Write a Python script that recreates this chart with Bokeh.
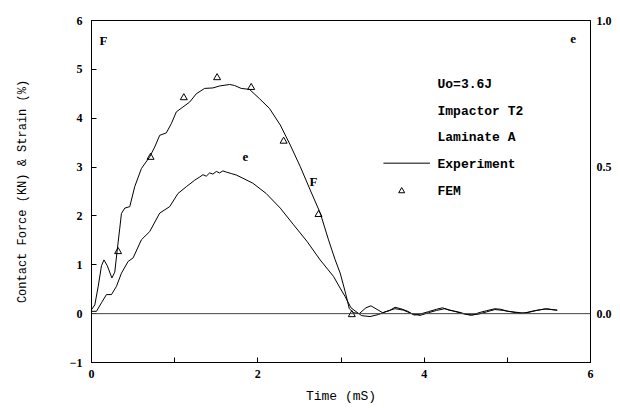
from bokeh.plotting import figure
from bokeh.models import Range1d, LinearAxis, Span, Label, FixedTicker, PrintfTickFormatter
from bokeh.embed import file_html
from bokeh.resources import INLINE

# Contact force F (kN) vs time (ms) -- experiment
t_force = [0.00, 0.04, 0.08, 0.12, 0.15, 0.19, 0.245, 0.28, 0.305, 0.34, 0.36, 0.40, 0.46,
           0.52, 0.60, 0.70, 0.76, 0.82, 0.90, 0.96, 1.02, 1.10, 1.18, 1.26, 1.36, 1.46,
           1.54, 1.66, 1.72, 1.80, 1.90, 2.02, 2.14, 2.27, 2.39, 2.51, 2.63, 2.75, 2.85,
           2.93, 2.99, 3.05, 3.10, 3.15, 3.22, 3.30, 3.36, 3.42, 3.50, 3.58, 3.65, 3.72,
           3.80, 3.88, 3.95, 4.05, 4.15, 4.22, 4.30, 4.40, 4.50, 4.58, 4.66, 4.75, 4.85,
           4.92, 5.00, 5.10, 5.20, 5.30, 5.40, 5.48, 5.55, 5.60]
force = [0.08, 0.18, 0.55, 0.98, 1.10, 0.98, 0.73, 0.85, 1.24, 1.75, 2.05, 2.16, 2.19,
         2.60, 2.97, 3.21, 3.41, 3.65, 3.70, 3.89, 4.13, 4.23, 4.33, 4.50, 4.61, 4.62,
         4.66, 4.69, 4.67, 4.61, 4.59, 4.40, 4.20, 3.86, 3.45, 3.01, 2.53, 2.06, 1.51,
         1.10, 0.83, 0.45, 0.10, 0.02, 0.00, 0.12, 0.16, 0.10, 0.02, 0.06, 0.13, 0.10,
         0.05, -0.03, -0.01, 0.04, 0.09, 0.12, 0.07, 0.04, -0.01, -0.03, 0.02, 0.06, 0.10,
         0.09, 0.05, 0.03, 0.01, 0.05, 0.08, 0.10, 0.08, 0.07]

# Strain e (%) vs time (ms) -- experiment
t_strain = [0.00, 0.06, 0.12, 0.18, 0.24, 0.30, 0.36, 0.44, 0.50, 0.60, 0.70, 0.82, 0.94,
            1.04, 1.14, 1.24, 1.30, 1.34, 1.38, 1.42, 1.46, 1.50, 1.54, 1.58, 1.62, 1.68,
            1.74, 1.82, 1.94, 2.10, 2.27, 2.43, 2.59, 2.75, 2.91, 2.99, 3.05, 3.12, 3.18,
            3.25, 3.35, 3.45, 3.55, 3.65, 3.75, 3.85, 3.95, 4.05, 4.15, 4.25, 4.35, 4.45,
            4.55, 4.65, 4.75, 4.85, 4.95, 5.05, 5.15, 5.25, 5.35, 5.45, 5.52, 5.60]
strain = [0.008, 0.008, 0.037, 0.065, 0.065, 0.093, 0.138, 0.178, 0.190, 0.252, 0.280, 0.343, 0.365,
          0.410, 0.433, 0.455, 0.466, 0.474, 0.469, 0.480, 0.476, 0.485, 0.480, 0.487, 0.483, 0.478,
          0.473, 0.462, 0.445, 0.410, 0.360, 0.303, 0.247, 0.183, 0.127, 0.087, 0.058, 0.020, 0.007,
          -0.007, -0.010, -0.003, 0.008, 0.017, 0.012, 0.000, -0.006, 0.003, 0.011, 0.017, 0.009, 0.001,
          -0.005, -0.002, 0.006, 0.014, 0.011, 0.006, 0.001, 0.004, 0.011, 0.016, 0.014, 0.012]

# FEM force prediction
t_fem = [0.32, 0.71, 1.11, 1.51, 1.92, 2.31, 2.73, 3.13]
force_fem = [1.27, 3.20, 4.42, 4.83, 4.63, 3.53, 2.03, -0.02]

x_ticks = [0, 2, 4, 6]
x_minor = [1, 3, 5]
y_ticks = [-1, 0, 1, 2, 3, 4, 5, 6]
y2_ticks = [0.0, 0.5, 1.0]

info_lines = ["Uo=3.6J", "Impactor T2", "Laminate A", "Experiment", "FEM"]

p = figure(width=620, height=408, x_range=Range1d(0, 6), y_range=Range1d(-1, 6),
           output_backend="svg", toolbar_location=None,
           min_border_left=91, min_border_right=30, min_border_top=20, min_border_bottom=46)
p.extra_y_ranges = {"strain": Range1d(-1 / 6, 1)}
p.xgrid.visible = False
p.ygrid.visible = False
p.outline_line_color = "black"
p.outline_line_alpha = 1.0
p.background_fill_color = "white"
p.border_fill_color = "white"

tick_font = "Liberation Serif"
mono = "Liberation Mono"

xa = p.xaxis[0]
xa.ticker = FixedTicker(ticks=x_ticks, minor_ticks=x_minor)
xa.axis_label = "Time (mS)"
ya = p.yaxis[0]
ya.ticker = FixedTicker(ticks=y_ticks)
ya.axis_label = "Contact Force (KN) & Strain (%)"

y2 = LinearAxis(y_range_name="strain", ticker=FixedTicker(ticks=y2_ticks),
                formatter=PrintfTickFormatter(format="%.1f"))
p.add_layout(y2, "right")

for ax in [xa, ya, y2]:
    ax.axis_line_color = "black"
    ax.major_tick_line_color = "black"
    ax.minor_tick_line_color = "black"
    ax.major_tick_in = 5
    ax.major_tick_out = 0
    ax.minor_tick_in = 5
    ax.minor_tick_out = 0
    ax.major_label_text_font = tick_font
    ax.major_label_text_font_style = "bold"
    ax.major_label_text_font_size = "12px"
    ax.major_label_text_color = "black"
    ax.axis_label_text_font = mono
    ax.axis_label_text_font_style = "normal"
    ax.axis_label_text_color = "black"

ya.minor_tick_line_color = None
y2.minor_tick_line_color = None
y2.major_tick_in = 0
y2.major_label_text_font_size = "12px"
y2.major_label_standoff = 6
xa.major_label_standoff = 7
ya.major_label_standoff = 9
xa.axis_label_text_font_size = "13px"
ya.axis_label_text_font_size = "12px"
xa.axis_label_standoff = 8
ya.axis_label_standoff = 37

p.add_layout(Span(location=0, dimension="width", line_color="#444444", line_width=1))

p.line(t_force, force, line_color="black", line_width=1)
p.line(t_strain, strain, y_range_name="strain", line_color="black", line_width=1)
p.scatter(t_fem, force_fem, marker="triangle", size=7, fill_color=None,
          line_color="black", line_width=1)

# legend / info block
info_y = [4.69, 4.14, 3.61, 3.06, 2.51]
for txt, yy in zip(info_lines, info_y):
    p.add_layout(Label(x=4.16, y=yy, text=txt, text_font=mono, text_font_style="bold",
                       text_font_size="13px", text_baseline="middle", text_color="black"))
p.line([3.51, 4.07], [3.08, 3.08], line_color="black", line_width=1)
p.scatter([3.73], [2.51], marker="triangle", size=6, fill_color=None,
          line_color="black", line_width=1)

for txt, xx, yy in [("F", 0.144, 5.59), ("e", 5.79, 5.63), ("F", 2.67, 2.71), ("e", 1.85, 3.2)]:
    p.add_layout(Label(x=xx, y=yy, text=txt, text_font=tick_font, text_font_style="bold",
                       text_font_size="13px", text_align="center", text_baseline="middle",
                       text_color="black"))

open("out.html", "w").write(file_html(p, INLINE))
